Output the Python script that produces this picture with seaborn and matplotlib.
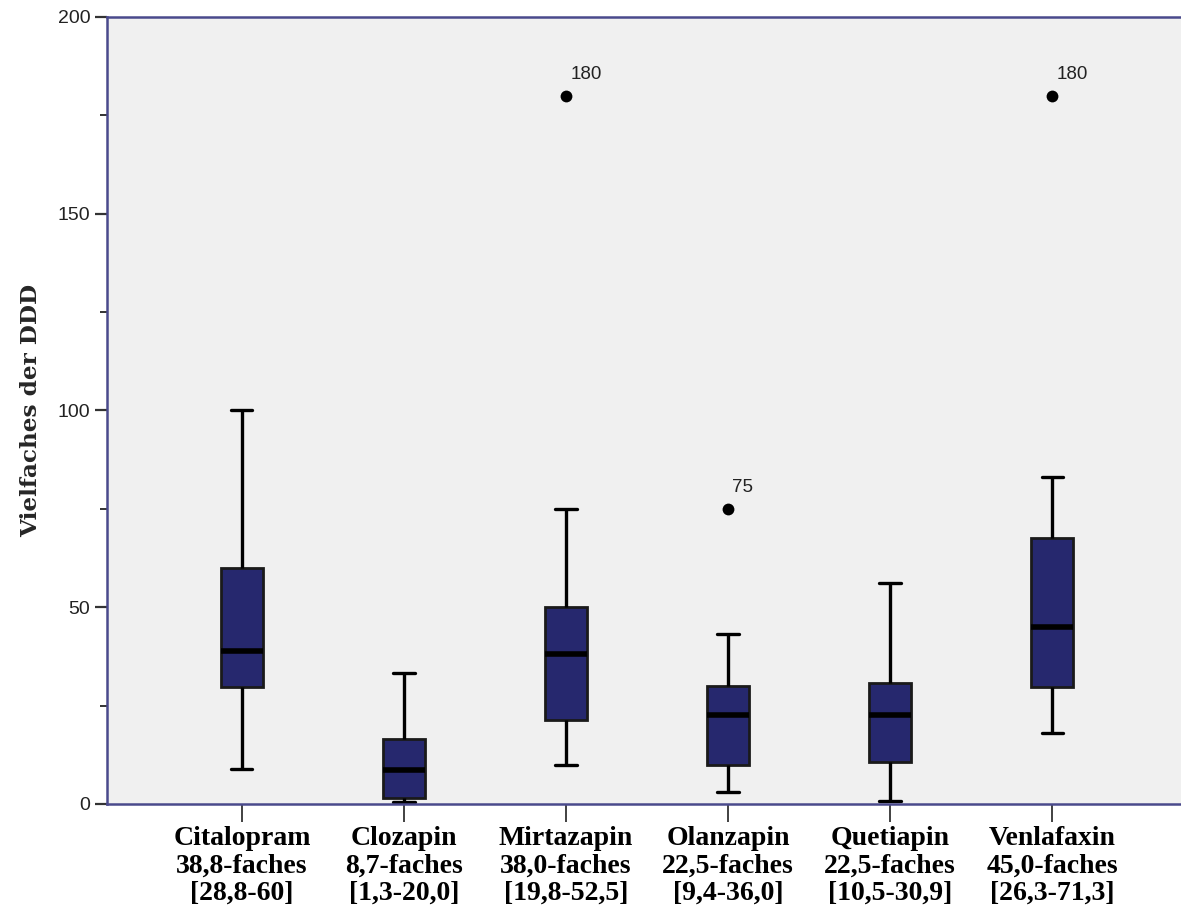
import numpy as np
import pandas as pd
import matplotlib
matplotlib.use("Agg")
import matplotlib.pyplot as plt
import seaborn as sns
from matplotlib.ticker import MultipleLocator

# Drugs and box statistics (multiples of the defined daily dose)
drugs = ["Citalopram", "Clozapin", "Mirtazapin", "Olanzapin", "Quetiapin", "Venlafaxin"]
whisker_low = [9.0, 0.5, 10.0, 3.0, 0.8, 18.0]
q1 = [29.7, 1.5, 21.3, 9.9, 10.7, 29.7]
median = [38.8, 8.7, 38.0, 22.5, 22.5, 45.0]
q3 = [60.0, 16.5, 50.0, 30.0, 30.7, 67.6]
whisker_high = [100.0, 33.3, 75.0, 43.2, 56.2, 83.1]

# Extreme values shown as single points with their value
outlier_drug = ["Mirtazapin", "Olanzapin", "Venlafaxin"]
outlier_value = [180, 75, 180]

# Median and interquartile range printed under each drug name
median_text = ["38,8", "8,7", "38,0", "22,5", "22,5", "45,0"]
iqr_text = ["[28,8-60]", "[1,3-20,0]", "[19,8-52,5]", "[9,4-36,0]", "[10,5-30,9]", "[26,3-71,3]"]

# Five-number summary per drug -> long table for seaborn
rows = []
for d, lo, a, m, b, hi in zip(drugs, whisker_low, q1, median, q3, whisker_high):
    for v in (lo, a, m, b, hi):
        rows.append({"drug": d, "value": v})
df = pd.DataFrame(rows)
out_df = pd.DataFrame({"drug": outlier_drug, "value": outlier_value})

sns.set_theme(style="white")
plt.rcParams["font.family"] = ["Liberation Sans", "DejaVu Sans"]

fig = plt.figure(figsize=(11.81, 9.13), dpi=100)
ax = fig.add_axes([0.0906, 0.1194, 0.9094, 0.862])
ax.set_facecolor("#F0F0F0")

box_color = "#26286E"
sns.boxplot(
    data=df, x="drug", y="value", order=drugs, ax=ax,
    whis=(0, 100), width=0.26, color=box_color, saturation=1,
    linecolor="black", linewidth=2.4, fliersize=0,
    medianprops={"linewidth": 4, "color": "black"},
    boxprops={"edgecolor": "#1a1a1a", "linewidth": 2.0},
)
sns.stripplot(
    data=out_df, x="drug", y="value", order=drugs, ax=ax,
    jitter=False, color="black", size=8.5, zorder=5,
)
for d, v in zip(outlier_drug, outlier_value):
    ax.annotate(str(v), xy=(drugs.index(d), v), xytext=(3, 9),
                textcoords="offset points", fontsize=13.5, color="#222222",
                ha="left", va="bottom")

ax.set_ylim(0, 200)
ax.set_xlim(-0.833, 5.796)
ax.yaxis.set_major_locator(MultipleLocator(50))
ax.yaxis.set_minor_locator(MultipleLocator(25))
ax.tick_params(axis="y", which="major", direction="out", length=9, width=1.6,
               color="#333333", labelsize=14, pad=3, left=True, labelcolor="#222222")
ax.tick_params(axis="y", which="minor", direction="out", length=5, width=1.4,
               color="#333333", left=True)
ax.tick_params(axis="x", which="major", direction="out", length=13, width=1.3,
               color="#333333", pad=3, bottom=True)

ax.set_xticks(range(len(drugs)))
ax.set_xticklabels(
    [f"{d}\n{m}-faches\n{r}" for d, m, r in zip(drugs, median_text, iqr_text)],
    fontsize=20, fontweight="bold", family=["Liberation Serif", "DejaVu Serif"],
    linespacing=1.12, color="black",
)
ax.set_xlabel("")
ax.set_ylabel("Vielfaches der DDD", fontsize=16.7, fontweight="bold",
              family=["DejaVu Serif"], labelpad=11)

spine_color = "#4A4A8C"
for side in ("left", "top", "bottom"):
    ax.spines[side].set_visible(True)
    ax.spines[side].set_color(spine_color)
    ax.spines[side].set_linewidth(1.8)
ax.spines["right"].set_visible(False)

fig.savefig("out.png", dpi=100, facecolor="white")
